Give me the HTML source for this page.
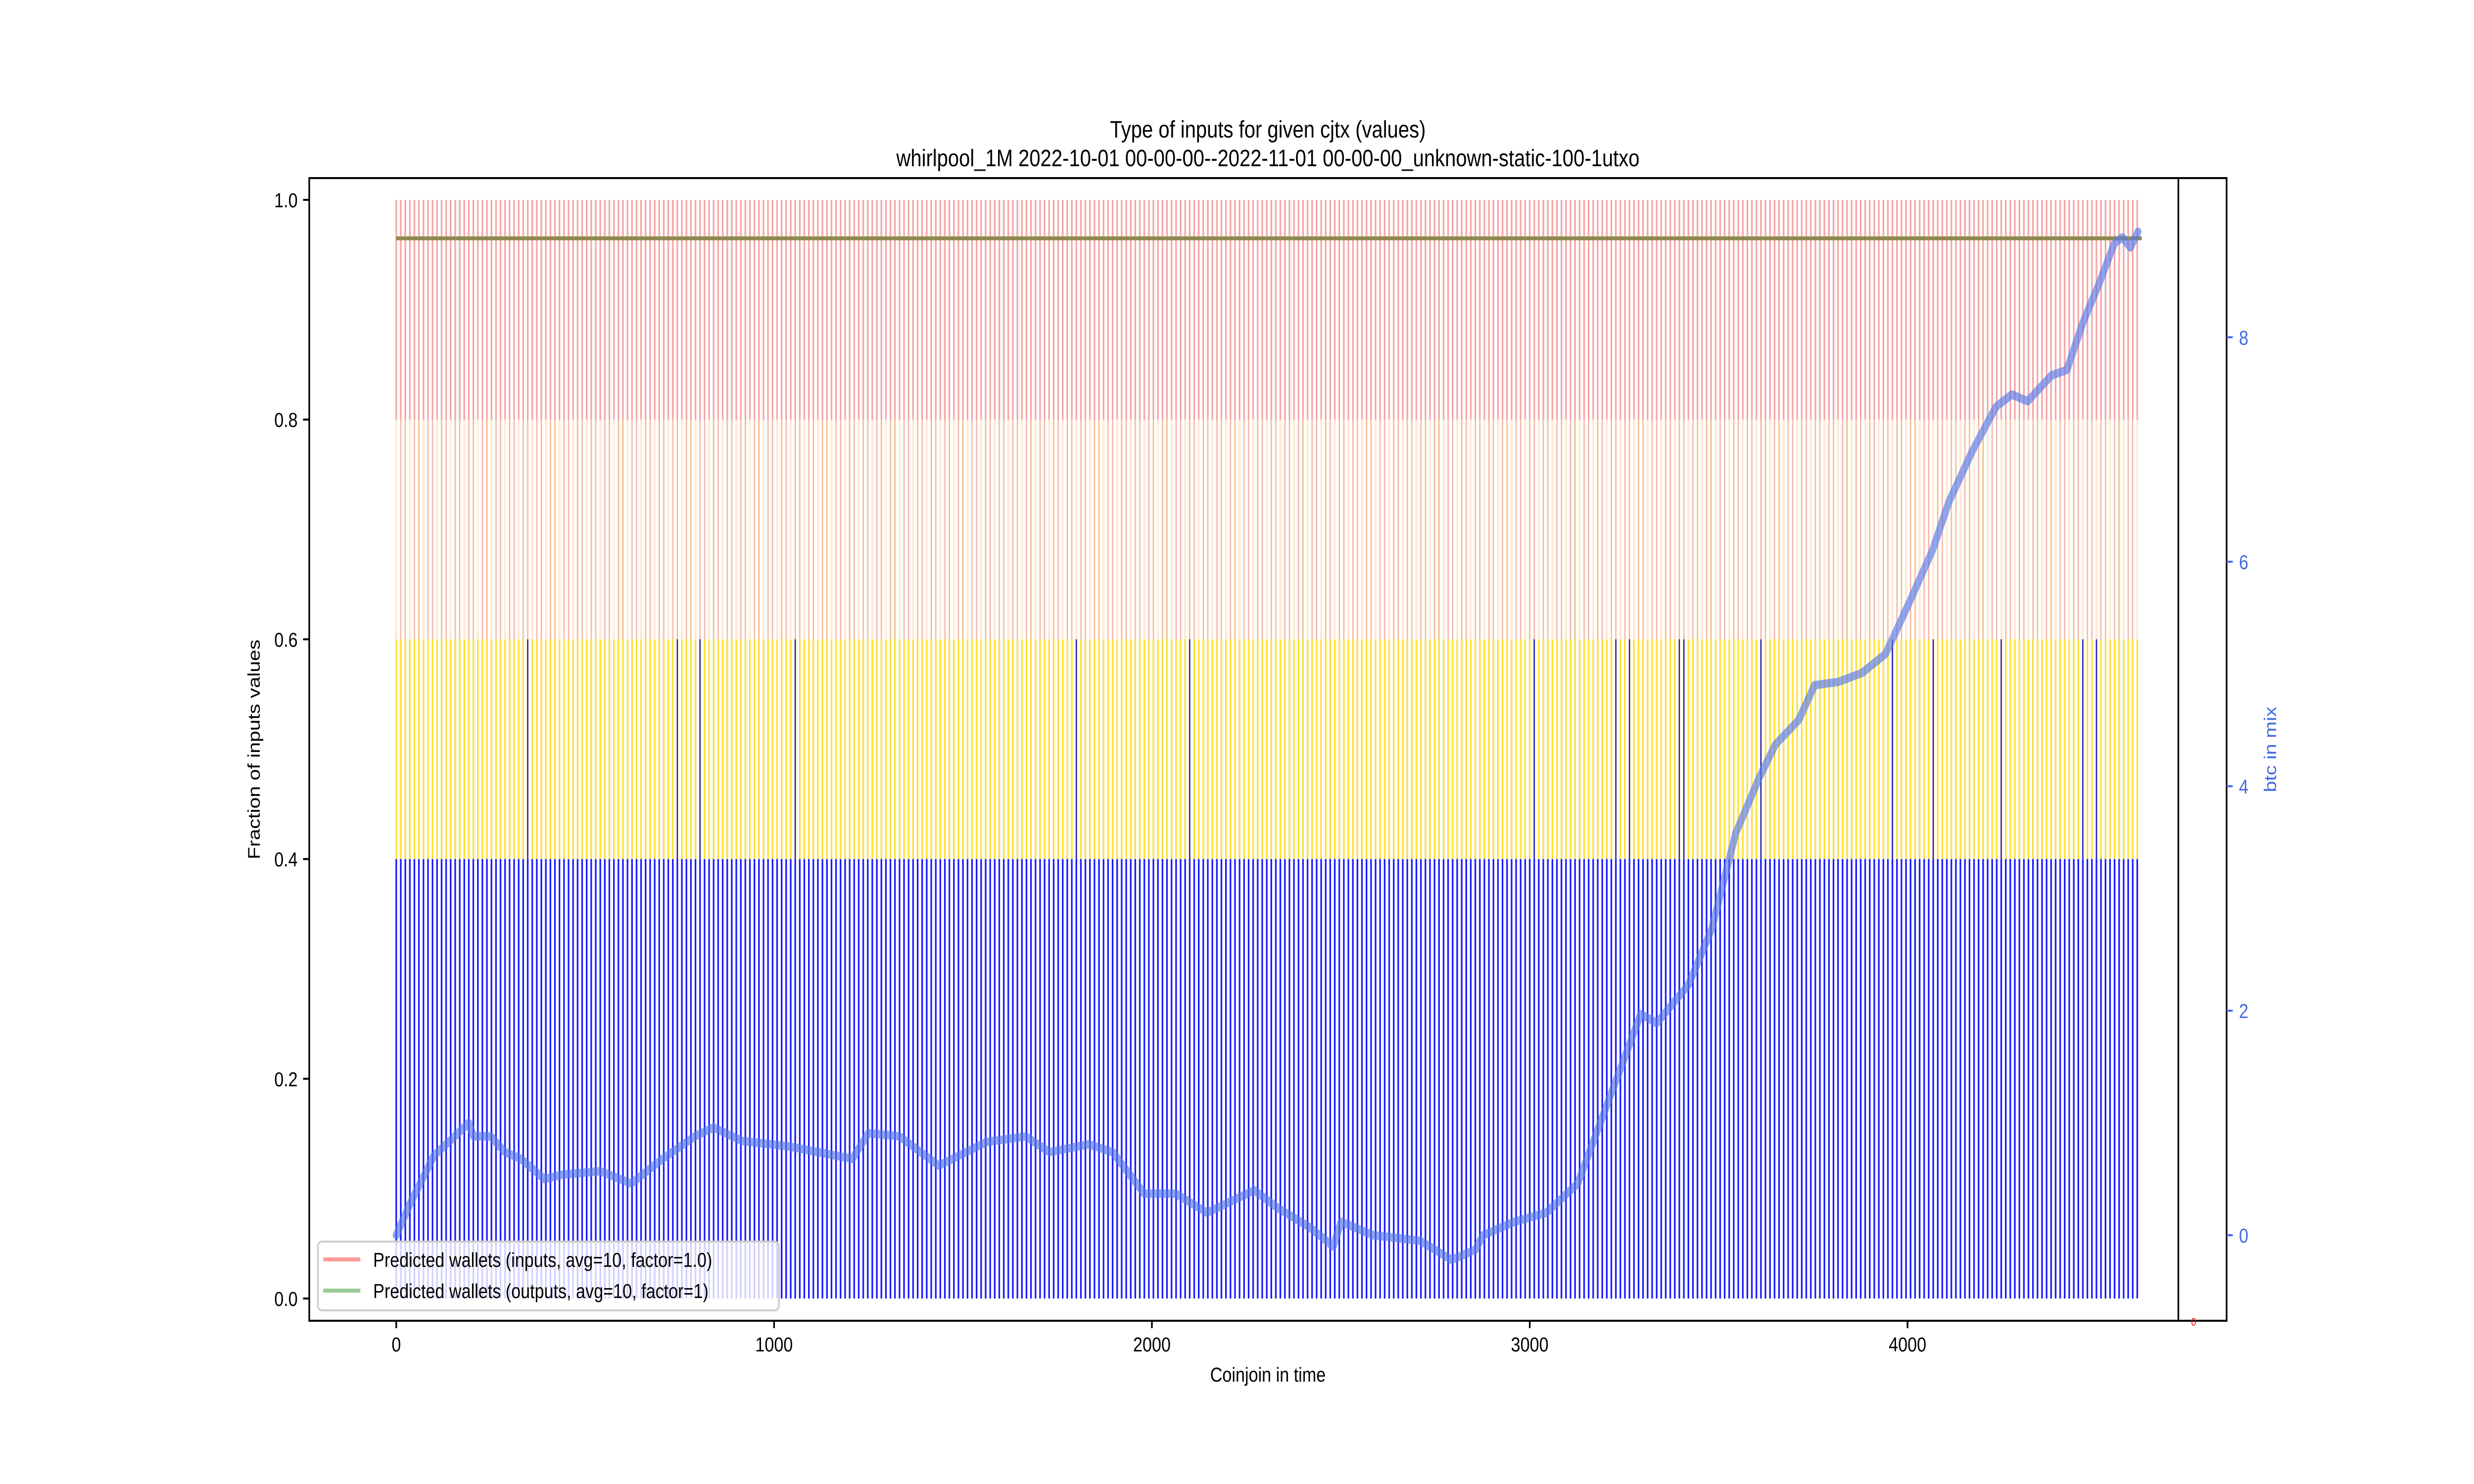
<!DOCTYPE html>
<html><head><meta charset="utf-8"><style>
html,body{margin:0;padding:0;background:#fff;width:100%;height:100%;overflow:hidden;}
svg{display:block;width:100vw;height:100vh;font-family:"Liberation Sans","DejaVu Sans",sans-serif;}
</style></head><body>
<svg id="chart" viewBox="0 0 6000 3000" preserveAspectRatio="none" xmlns="http://www.w3.org/2000/svg">
<rect width="6000" height="3000" fill="#fff"/>
<g id="bars"></g>
<g id="lines"></g>
<g id="axes"></g>
<text x="3075" y="278" font-size="48" text-anchor="middle">Type of inputs for given cjtx (values)</text>
<text x="3075" y="336" font-size="48" text-anchor="middle">whirlpool_1M 2022-10-01 00-00-00--2022-11-01 00-00-00_unknown-static-100-1utxo</text>
<text x="3075" y="2793" font-size="41" text-anchor="middle">Coinjoin in time</text>
<text x="0" y="0" font-size="41" text-anchor="middle" transform="translate(630,1515) rotate(-90)">Fraction of inputs values</text>
<text x="0" y="0" font-size="41" fill="#4169e1" text-anchor="middle" transform="translate(5520,1515) rotate(-90)">btc in mix</text>
<g>
<rect x="771" y="2510" width="1118" height="139" rx="10" fill="#fff" fill-opacity="0.8" stroke="#cccccc" stroke-width="4"/>
<line x1="784" y1="2546" x2="874" y2="2546" stroke="#ff9a9a" stroke-width="8"/>
<text x="905" y="2561" font-size="41">Predicted wallets (inputs, avg=10, factor=1.0)</text>
<line x1="784" y1="2609" x2="874" y2="2609" stroke="#99cc99" stroke-width="8"/>
<text x="905" y="2624" font-size="41">Predicted wallets (outputs, avg=10, factor=1)</text>
</g>
</svg>
<script>
const barCount = 385;
const barStep = 12;
const segFractions = [0.4, 0.2, 0.2, 0.2];
const segNames = ['mixed-remix', 'fresh-input', 'mid-input', 'other-input'];
const darkBlueIdx = [29, 62, 67, 88, 150, 175, 251, 269, 272, 283, 284, 301, 330, 339, 354, 372, 375];
const btcX = [0,38,100,142,192,205,250,288,330,392,440,540,622,705,790,840,915,1040,1207,1250,1332,1436,1562,1666,1729,1833,1896,1980,2063,2146,2271,2334,2418,2480,2501,2585,2710,2793,2856,2877,2960,3044,3127,3211,3294,3336,3420,3482,3545,3608,3650,3712,3754,3817,3880,3942,4005,4067,4109,4172,4234,4276,4318,4381,4422,4464,4506,4548,4569,4590,4610];
const btcY = [0,0.29,0.71,0.84,1.0,0.88,0.88,0.74,0.68,0.5,0.54,0.57,0.46,0.68,0.88,0.96,0.84,0.79,0.68,0.91,0.88,0.62,0.83,0.88,0.74,0.81,0.74,0.37,0.37,0.2,0.4,0.24,0.07,-0.1,0.12,0.0,-0.05,-0.22,-0.13,0.0,0.12,0.2,0.46,1.22,1.97,1.89,2.23,2.73,3.58,4.08,4.37,4.59,4.9,4.93,5.01,5.18,5.64,6.11,6.53,6.99,7.38,7.49,7.43,7.66,7.71,8.13,8.47,8.84,8.89,8.8,8.94];
const walletLevel = 0.965;
const walletXEnd = 4620;
const xTicks = [0,1000,2000,3000,4000];
const yTicks = [0.0,0.2,0.4,0.6,0.8,1.0];
const yTickLabels = ['0.0','0.2','0.4','0.6','0.8','1.0'];
const y2Ticks = [0,2,4,6,8];

const NS = 'http://www.w3.org/2000/svg';
const L = 750, R = 5400, T = 360, B = 2670;
const X = v => 961 + v * 0.9163;
const Y = v => 2625 - v * 2221;
const Y2 = v => 2497 - v * 226.9;
function mk(tag, attrs, parent){const e=document.createElementNS(NS,tag);for(const k in attrs)e.setAttribute(k,attrs[k]);parent.appendChild(e);return e;}

const bars = document.getElementById('bars');
const segColors = ['#1a1aff', '#ffe033', '#fdebd5', '#f4a6a6'];
const segWidths = [4, 4, 5, 4];
for (let i = 0; i < barCount; i++) {
  const x = X(i * barStep);
  let acc = 0;
  for (let s = 0; s < segFractions.length; s++) {
    const r = mk('rect', {x: x - segWidths[s]/2, y: Y(acc + segFractions[s]), width: segWidths[s], height: Y(acc) - Y(acc + segFractions[s]), fill: segColors[s]}, bars);
    
    
    if (s === 2 && i % 3 !== 0) {
      const p = mk('rect', {x: x - 1, y: Y(acc + segFractions[s]), width: 2, height: Y(acc) - Y(acc + segFractions[s]), fill: (i % 5 === 0 ? '#f7b05a' : '#f4a6a6')}, bars);
      
      
    }
    acc += segFractions[s];
  }
}
darkBlueIdx.forEach(i => {
  const r = mk('rect', {x: X(i * barStep) - 1.5, y: Y(0.6), width: 3, height: Y(0.4) - Y(0.6), fill: '#1a1acc'}, bars);
  
  
});

const lines = document.getElementById('lines');
const wl = mk('line', {x1: X(0), x2: X(walletXEnd), y1: Y(walletLevel), y2: Y(walletLevel), stroke: '#8f8a4f', 'stroke-width': 8}, lines);


const pts = btcX.map((v, i) => X(v).toFixed(1) + ',' + Y2(btcY[i]).toFixed(1)).join(' ');
const bl = mk('polyline', {points: pts, fill: 'none', stroke: '#5577e6', 'stroke-opacity': 0.65, 'stroke-width': 17, 'stroke-linejoin': 'round', 'stroke-linecap': 'round'}, lines);



const axes = document.getElementById('axes');
const frame = mk('rect', {x: L, y: T, width: R - L, height: B - T, fill: 'none', stroke: '#000', 'stroke-width': 4}, axes);


const inner = mk('line', {x1: 5283, x2: 5283, y1: T, y2: B, stroke: '#000', 'stroke-width': 4}, axes);


xTicks.forEach(v => {
  const t = mk('line', {x1: X(v), x2: X(v), y1: B, y2: B + 15, stroke: '#000', 'stroke-width': 4}, axes);
  
  
  const tx = mk('text', {x: X(v), y: B + 62, 'font-size': 41, 'text-anchor': 'middle'}, axes);
  tx.textContent = v;
  
  
});
yTicks.forEach((v, i) => {
  const t = mk('line', {x1: L - 15, x2: L, y1: Y(v), y2: Y(v), stroke: '#000', 'stroke-width': 4}, axes);
  
  
  const tx = mk('text', {x: L - 28, y: Y(v) + 15, 'font-size': 41, 'text-anchor': 'end'}, axes);
  tx.textContent = yTickLabels[i];
  
  
});
y2Ticks.forEach(v => {
  const t = mk('line', {x1: R, x2: R + 15, y1: Y2(v), y2: Y2(v), stroke: '#4169e1', 'stroke-width': 4}, axes);
  
  
  const tx = mk('text', {x: R + 30, y: Y2(v) + 15, 'font-size': 41, fill: '#4169e1'}, axes);
  tx.textContent = v;
  
  
});
const rz = mk('text', {x: 5320, y: 2680, 'font-size': 22, fill: '#ff0000', 'text-anchor': 'middle'}, axes);
rz.textContent = '0';


</script>
</body></html>
